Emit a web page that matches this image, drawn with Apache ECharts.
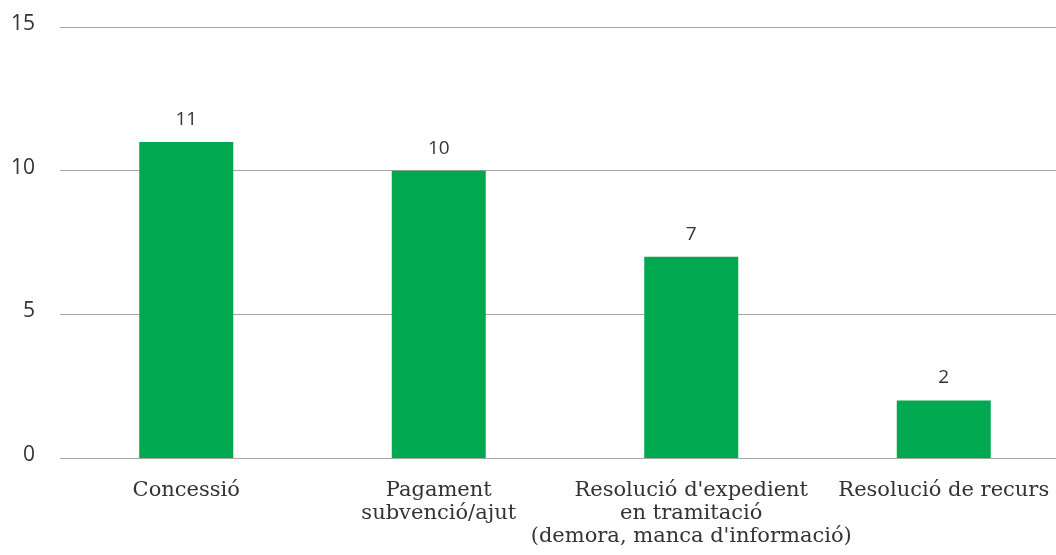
<!DOCTYPE html>
<html>
<head>
<meta charset="utf-8">
<script src="https://cdn.jsdelivr.net/npm/echarts@6/dist/echarts.min.js"></script>
<style>
  html, body { margin: 0; padding: 0; background: #fff; overflow: hidden; }
  #chart { width: 1070px; height: 555px; }
</style>
</head>
<body>
<div id="chart"></div>
<script>
// Categories of complaints and their counts
const categories = [
  'Concessió',
  'Pagament\nsubvenció/ajut',
  "Resolució d'expedient\nen tramitació\n(demora, manca d'informació)",
  'Resolució de recurs'
];
const counts = [11, 10, 7, 2];
const yTicks = { min: 0, max: 15, interval: 5 };

const chart = echarts.init(document.getElementById('chart'));
chart.setOption({
  animation: false,
  grid: { left: 60, right: 0, top: 27, bottom: 97, containLabel: false },
  xAxis: {
    type: 'category',
    data: categories,
    axisLine: { show: false },
    axisTick: { show: false },
    axisLabel: {
      interval: 0,
      margin: 21,
      color: '#333',
      fontFamily: 'DejaVu Serif',
      fontSize: 21,
      lineHeight: 23
    }
  },
  yAxis: {
    type: 'value',
    min: yTicks.min,
    max: yTicks.max,
    interval: yTicks.interval,
    axisLine: { show: false },
    axisTick: { show: false },
    splitLine: { lineStyle: { color: '#a6a6a6', width: 1 } },
    axisLabel: {
      color: '#333',
      fontFamily: 'Open Sans',
      fontSize: 21,
      margin: 25,
      verticalAlign: 'bottom',
      lineHeight: 6
    }
  },
  series: [{
    type: 'bar',
    data: counts,
    barWidth: 94,
    itemStyle: { color: '#00A84F' },
    label: {
      show: true,
      position: 'top',
      distance: 13,
      color: '#333',
      fontFamily: 'Open Sans',
      fontSize: 19
    }
  }]
});
</script>
</body>
</html>
